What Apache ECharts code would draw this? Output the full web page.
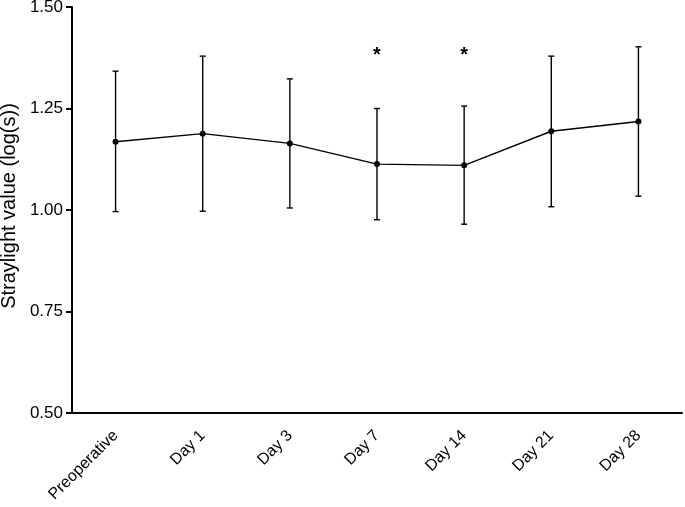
<!DOCTYPE html>
<html>
<head>
<meta charset="utf-8">
<script src="https://cdn.jsdelivr.net/npm/echarts@6/dist/echarts.min.js"></script>
<style>
  html, body { margin: 0; padding: 0; background: #fff; }
  #chart { width: 685px; height: 507px; }
</style>
</head>
<body>
<div id="chart"></div>
<script>
const categories = ["Preoperative", "Day 1", "Day 3", "Day 7", "Day 14", "Day 21", "Day 28"];
const meanValues = [1.168, 1.188, 1.164, 1.113, 1.110, 1.194, 1.218];
const upperValues = [1.342, 1.379, 1.323, 1.250, 1.256, 1.379, 1.402];
const lowerValues = [0.996, 0.997, 1.005, 0.976, 0.965, 1.008, 1.034];
const significance = ["", "", "", "*", "*", "", ""];

const chart = echarts.init(document.getElementById("chart"));
const font = "'Liberation Sans', Arial, sans-serif";

const errorData = categories.map((c, i) => [i, lowerValues[i], upperValues[i]]);
const starData = categories.map((c, i) => [i, significance[i]]);

const option = {
  animation: false,
  grid: { left: 72, right: 3, top: 7, bottom: 94, outerBoundsMode: "none", containLabel: false },
  xAxis: {
    type: "category",
    data: categories,
    boundaryGap: true,
    axisLine: { lineStyle: { color: "#000", width: 2 } },
    axisTick: { alignWithLabel: true, length: 6, lineStyle: { color: "#000", width: 2 } },
    axisLabel: {
      rotate: 45,
      color: "#000",
      fontSize: 16,
      fontFamily: font,
      margin: 20,
    },
  },
  yAxis: {
    type: "value",
    min: 0.5,
    max: 1.5,
    interval: 0.25,
    name: "Straylight value (log(s))",
    nameLocation: "middle",
    nameGap: 53,
    nameTextStyle: { color: "#000", fontSize: 20, fontFamily: font, padding: [0, 0, 0, 8] },
    axisLine: { show: true, lineStyle: { color: "#000", width: 2 } },
    axisTick: { show: true, length: 6, lineStyle: { color: "#000", width: 2 } },
    splitLine: { show: false },
    axisLabel: {
      color: "#000",
      fontSize: 17,
      fontFamily: font,
      margin: 9,
      formatter: (v) => v.toFixed(2),
    },
  },
  series: [
    {
      type: "custom",
      data: errorData,
      z: 2,
      renderItem: (params, api) => {
        const x = api.value(0);
        const lo = api.coord([x, api.value(1)]);
        const hi = api.coord([x, api.value(2)]);
        const half = 3;
        const style = { stroke: "#000", lineWidth: 1.4 };
        return {
          type: "group",
          children: [
            { type: "line", shape: { x1: lo[0], y1: lo[1], x2: hi[0], y2: hi[1] }, style },
            { type: "line", shape: { x1: hi[0] - half, y1: hi[1], x2: hi[0] + half, y2: hi[1] }, style },
            { type: "line", shape: { x1: lo[0] - half, y1: lo[1], x2: lo[0] + half, y2: lo[1] }, style },
          ],
        };
      },
    },
    {
      type: "line",
      data: meanValues,
      z: 3,
      symbol: "circle",
      symbolSize: 6,
      lineStyle: { color: "#000", width: 1.4 },
      itemStyle: { color: "#000" },
    },
    {
      type: "custom",
      data: starData,
      z: 4,
      renderItem: (params, api) => {
        const text = significance[params.dataIndex];
        if (!text) return null;
        const p = api.coord([api.value(0), 1.39]);
        return {
          type: "text",
          style: {
            text: text,
            x: p[0],
            y: p[1] + 4,
            align: "center",
            verticalAlign: "middle",
            font: "bold 20px " + font,
            fill: "#000",
          },
        };
      },
    },
  ],
};

chart.setOption(option);
</script>
</body>
</html>
